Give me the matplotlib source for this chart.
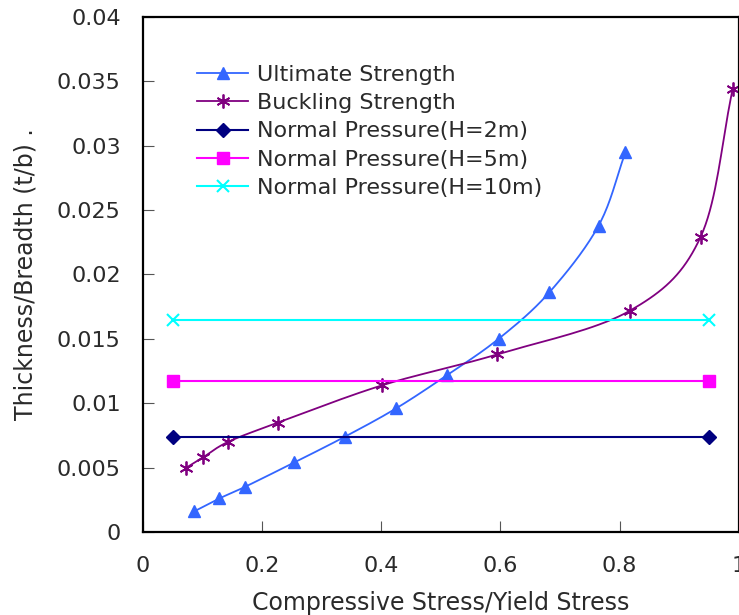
import matplotlib
matplotlib.use("Agg")
import matplotlib.pyplot as plt
import numpy as np

# Data
ult_x = [0.086, 0.128, 0.171, 0.254, 0.339, 0.425, 0.511, 0.597, 0.682, 0.765, 0.810]
ult_y = [0.0016, 0.0026, 0.0035, 0.0054, 0.0074, 0.0096, 0.0122, 0.0150, 0.0186, 0.0238, 0.0295]

buck_x = [0.073, 0.101, 0.143, 0.227, 0.402, 0.595, 0.818, 0.936, 0.990]
buck_y = [0.0050, 0.0058, 0.0070, 0.0085, 0.0114, 0.0138, 0.0172, 0.0229, 0.0344]

press_x = [0.05, 0.95]
press_2m = [0.0074, 0.0074]
press_5m = [0.0117, 0.0117]
press_10m = [0.0165, 0.0165]

x_ticks = [0, 0.2, 0.4, 0.6, 0.8, 1]
x_tick_labels = ["0", "0.2", "0.4", "0.6", "0.8", "1"]
y_ticks = [0, 0.005, 0.01, 0.015, 0.02, 0.025, 0.03, 0.035, 0.04]
y_tick_labels = ["0", "0.005", "0.01", "0.015", "0.02", "0.025", "0.03", "0.035", "0.04"]


def smooth(x, y, n=20):
    """
    Catmull-Rom curve through the points (like a spreadsheet smoothed line).
    """
    x = np.asarray(x, float)
    y = np.asarray(y, float)
    px = np.concatenate([[2 * x[0] - x[1]], x, [2 * x[-1] - x[-2]]])
    py = np.concatenate([[2 * y[0] - y[1]], y, [2 * y[-1] - y[-2]]])
    t = np.linspace(0, 1, n)
    out_x, out_y = [], []
    for i in range(1, len(px) - 2):
        for arr, out in ((px, out_x), (py, out_y)):
            p0, p1, p2, p3 = arr[i - 1], arr[i], arr[i + 1], arr[i + 2]
            out.extend(0.5 * ((2 * p1) + (-p0 + p2) * t
                              + (2 * p0 - 5 * p1 + 4 * p2 - p3) * t ** 2
                              + (-p0 + 3 * p1 - 3 * p2 + p3) * t ** 3))
    return np.array(out_x), np.array(out_y)


plt.rcParams["font.family"] = ["DejaVu Sans"]

fig = plt.figure(figsize=(7.39, 6.15), dpi=100)
ax = fig.add_axes([0.1935, 0.135, 0.806, 0.8374])

blue = "#3366FF"
purple = "#800080"
text_color = "#2a2a2a"

sx, sy = smooth(ult_x, ult_y)
ax.plot(sx, sy, color=blue, lw=1.3)
ax.plot(ult_x, ult_y, ls="none", marker="^", ms=9, color=blue)

bx, by = smooth(buck_x, buck_y)
ax.plot(bx, by, color=purple, lw=1.3)
ax.plot(buck_x, buck_y, ls="none", marker=(6, 2, 0), ms=10, mew=1.3, color=purple)

ax.plot(press_x, press_2m, color="#000080", lw=1.5, marker="D", ms=7)
ax.plot(press_x, press_5m, color="#FF00FF", lw=1.5, marker="s", ms=9)
ax.plot(press_x, press_10m, color="#00FFFF", lw=1.5, marker="x", ms=9, mew=1.5)

# Legend proxies
handles = [
    ax.plot([], [], color=blue, lw=1.3, marker="^", ms=9)[0],
    ax.plot([], [], color=purple, lw=1.3, marker=(6, 2, 0), ms=10, mew=1.3)[0],
    ax.plot([], [], color="#000080", lw=1.5, marker="D", ms=7)[0],
    ax.plot([], [], color="#FF00FF", lw=1.5, marker="s", ms=9)[0],
    ax.plot([], [], color="#00FFFF", lw=1.5, marker="x", ms=9, mew=1.5)[0],
]
labels = [
    "Ultimate Strength",
    "Buckling Strength",
    "Normal Pressure(H=2m)",
    "Normal Pressure(H=5m)",
    "Normal Pressure(H=10m)",
]
leg = ax.legend(handles, labels, loc="upper left",
                bbox_to_anchor=(197 / 739, 1 - 65 / 615),
                bbox_transform=fig.transFigure,
                frameon=False, fontsize=16, handlelength=2.3, labelspacing=0.37,
                handletextpad=0.4, borderpad=0, borderaxespad=0)
for t in leg.get_texts():
    t.set_color(text_color)

ax.set_xlim(0, 1)
ax.set_ylim(0, 0.04)
ax.set_xticks(x_ticks)
ax.set_xticklabels(x_tick_labels)
ax.set_yticks(y_ticks)
ax.set_yticklabels(y_tick_labels)
ax.tick_params(direction="in", length=8, width=0.8, labelsize=16,
               color="#555555", labelcolor=text_color)
ax.tick_params(axis="x", pad=17)
ax.tick_params(axis="y", pad=16)

for side in ["left", "bottom", "top", "right"]:
    ax.spines[side].set_linewidth(1.6)

ax.set_xlabel("Compressive Stress/Yield Stress", fontsize=17, color=text_color, labelpad=11)
ax.set_ylabel("Thickness/Breadth (t/b) .", fontsize=17, color=text_color, labelpad=14)

fig.savefig("out.png", dpi=100)
